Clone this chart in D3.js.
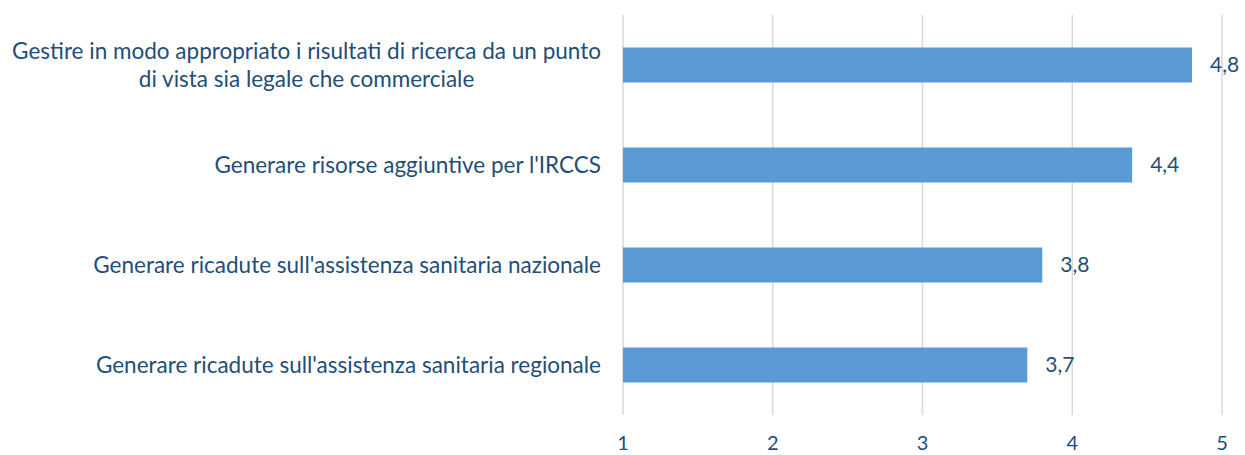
<!DOCTYPE html>
<html>
<head>
<meta charset="utf-8">
<script src="https://cdn.jsdelivr.net/npm/d3@7"></script>
<style>
  body { margin: 0; background: #fff; }
  text { font-family: Lato, "Open Sans", sans-serif; fill: #1F4E79; }
</style>
</head>
<body>
<div class="container"></div>
<script>
const categories = [
  ['Gestire in modo appropriato i risultati di ricerca da un punto', 'di vista sia legale che commerciale'],
  ["Generare risorse aggiuntive per l'IRCCS"],
  ["Generare ricadute sull'assistenza sanitaria nazionale"],
  ["Generare ricadute sull'assistenza sanitaria regionale"]
]
const values = [4.8, 4.4, 3.8, 3.7]
const valueLabels = ['4,8', '4,4', '3,8', '3,7']
const ticks = [1, 2, 3, 4, 5]

const width = 1245
const height = 455
const plotLeft = 623
const plotRight = 1222
const plotTop = 15
const plotBottom = 415

const svg = d3.select('.container')
  .append('svg')
  .attr('width', width)
  .attr('height', height)

const xScale = d3.scaleLinear()
  .domain([1, 5])
  .range([plotLeft, plotRight])

const yScale = d3.scaleBand()
  .domain(d3.range(categories.length))
  .range([plotTop, plotBottom])
  .paddingInner(0.65)
  .paddingOuter(0.325)

// gridlines
svg.append('g')
  .selectAll('line')
  .data(ticks)
  .enter()
  .append('line')
  .attr('x1', d => xScale(d))
  .attr('x2', d => xScale(d))
  .attr('y1', plotTop)
  .attr('y2', plotBottom)
  .attr('stroke', '#D9D9D9')
  .attr('stroke-width', 1.5)

// x tick labels
svg.append('g')
  .selectAll('text')
  .data(ticks)
  .enter()
  .append('text')
  .attr('x', d => xScale(d))
  .attr('y', 450)
  .attr('text-anchor', 'middle')
  .style('font-size', '20px')
  .text(d => d)

// bars
svg.append('g')
  .selectAll('rect')
  .data(values)
  .enter()
  .append('rect')
  .attr('x', xScale(1))
  .attr('y', (d, i) => yScale(i))
  .attr('width', d => xScale(d) - xScale(1))
  .attr('height', yScale.bandwidth())
  .attr('fill', '#5B9BD5')

// value labels
svg.append('g')
  .selectAll('text')
  .data(values)
  .enter()
  .append('text')
  .attr('x', d => xScale(d) + 18)
  .attr('y', (d, i) => yScale(i) + yScale.bandwidth() / 2)
  .attr('dy', '0.35em')
  .style('font-size', '21px')
  .text((d, i) => valueLabels[i])

// category labels
const labelRight = 601
const lineHeight = 28
categories.forEach((lines, i) => {
  const cy = yScale(i) + yScale.bandwidth() / 2
  const g = svg.append('g')
  const first = g.append('text')
    .attr('x', labelRight)
    .attr('text-anchor', 'end')
    .style('font-size', '22.5px')
    .text(lines[0])
  const w = first.node().getComputedTextLength()
  const center = labelRight - w / 2
  const y0 = cy - (lines.length - 1) * lineHeight / 2
  first.attr('y', y0).attr('dy', '0.35em')
  lines.slice(1).forEach((l, j) => {
    g.append('text')
      .attr('x', center)
      .attr('y', y0 + (j + 1) * lineHeight)
      .attr('dy', '0.35em')
      .attr('text-anchor', 'middle')
      .style('font-size', '22.5px')
      .text(l)
  })
})
</script>
</body>
</html>
